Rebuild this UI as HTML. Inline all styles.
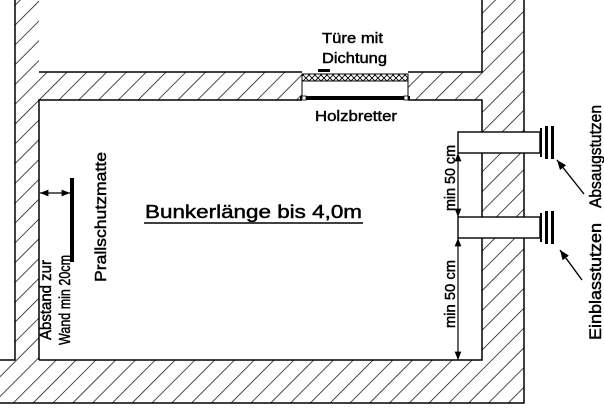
<!DOCTYPE html>
<html><head><meta charset="utf-8"><style>html,body{margin:0;padding:0;background:#fff}svg{display:block}text{font-family:"Liberation Sans",Arial,sans-serif;fill:#000;stroke:#000;stroke-width:0.45}</style></head>
<body>
<svg width="604" height="414" viewBox="0 0 604 414" xmlns="http://www.w3.org/2000/svg">
<defs>
<pattern id="h" patternUnits="userSpaceOnUse" width="14" height="14" patternTransform="rotate(45)">
<line x1="0" y1="0" x2="0" y2="14" stroke="#000" stroke-width="1.4"/>
</pattern>
<pattern id="x" patternUnits="userSpaceOnUse" width="6" height="6">
<path d="M0 0L6 6M6 0L0 6" stroke="#000" stroke-width="0.9"/>
</pattern>
<marker id="a" viewBox="0 0 10 10" refX="10" refY="5" markerWidth="7" markerHeight="7" orient="auto-start-reverse"><path d="M0 1L10 5L0 9z" fill="#000"/></marker>
</defs>
<path d="M15 0H39V72H302V100H39V360H482V0H524V403H0V360H15Z" fill="url(#h)"/>
<path d="M408 72H482V100H408Z" fill="url(#h)"/>
<g stroke="#000" stroke-width="1.5" fill="none">
<path d="M15 0V360H0"/>
<path d="M39 360V100H302"/>
<path d="M39 72H302"/>
<path d="M408 72H482V0"/>
<path d="M408 100H482V360H39"/>
<path d="M524 0V403H0"/>
</g>
<rect x="302" y="74" width="106" height="7" fill="url(#x)" stroke="#000" stroke-width="1"/>
<rect x="302" y="81" width="106" height="16" fill="#fff" stroke="#000" stroke-width="1"/>
<rect x="300" y="96" width="110" height="4" fill="#000"/>
<rect x="302" y="96" width="4" height="4" fill="#fff" stroke="#000" stroke-width="0.8"/>
<rect x="404" y="96" width="4" height="4" fill="#fff" stroke="#000" stroke-width="0.8"/>
<rect x="318" y="69" width="12" height="3" fill="#000"/>
<text x="322" y="43" font-size="15" textLength="61" lengthAdjust="spacingAndGlyphs">Türe mit</text>
<text x="322" y="63" font-size="15" textLength="65" lengthAdjust="spacingAndGlyphs">Dichtung</text>
<text x="315" y="121" font-size="15" textLength="82" lengthAdjust="spacingAndGlyphs">Holzbretter</text>
<g stroke="#000" stroke-width="1.4" fill="#fff">
<rect x="458" y="132" width="82" height="21"/>
<rect x="458" y="217" width="82" height="21"/>
</g>
<g fill="#000">
<rect x="540" y="128" width="2" height="29"/><rect x="545" y="126" width="3" height="33"/><rect x="551" y="126" width="3" height="33"/>
<rect x="540" y="213" width="2" height="29"/><rect x="545" y="211" width="3" height="33"/><rect x="551" y="211" width="3" height="33"/>
</g>
<g stroke="#000" stroke-width="1.2" marker-start="url(#a)" marker-end="url(#a)">
<line x1="458" y1="153" x2="458" y2="217"/>
<line x1="458" y1="238" x2="458" y2="360"/>
<line x1="40" y1="193" x2="70" y2="193"/>
</g>
<text transform="translate(455,211) rotate(-90)" font-size="15" textLength="66" lengthAdjust="spacingAndGlyphs">min 50 cm</text>
<text transform="translate(455,328) rotate(-90)" font-size="15" textLength="68" lengthAdjust="spacingAndGlyphs">min 50 cm</text>
<g stroke="#000" stroke-width="1.4" marker-end="url(#a)">
<line x1="584" y1="194" x2="557" y2="160"/>
<line x1="582" y1="280" x2="560" y2="250"/>
</g>
<text transform="translate(601,208) rotate(-90)" font-size="17" textLength="103" lengthAdjust="spacingAndGlyphs">Absaugstutzen</text>
<text transform="translate(601,340) rotate(-90)" font-size="17" textLength="117" lengthAdjust="spacingAndGlyphs">Einblasstutzen</text>
<rect x="70" y="178" width="4" height="84" fill="#000"/>
<text transform="translate(106,282) rotate(-90)" font-size="16" textLength="130" lengthAdjust="spacingAndGlyphs">Prallschutzmatte</text>
<text transform="translate(51,340) rotate(-90)" font-size="16" textLength="80" lengthAdjust="spacingAndGlyphs">Abstand zur</text>
<text transform="translate(70,345) rotate(-90)" font-size="16" textLength="90" lengthAdjust="spacingAndGlyphs">Wand min 20cm</text>
<text x="145" y="218" font-size="18" textLength="217" lengthAdjust="spacingAndGlyphs">Bunkerlänge bis 4,0m</text>
<line x1="144" y1="223" x2="363" y2="223" stroke="#000" stroke-width="1.5"/>
</svg>
</body></html>
